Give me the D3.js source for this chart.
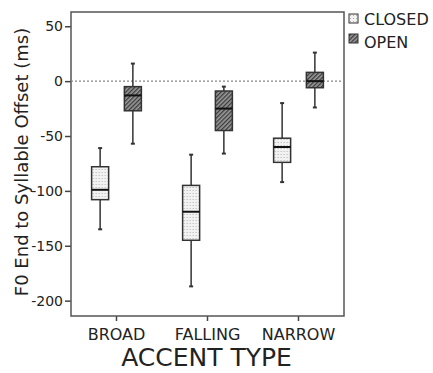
<!DOCTYPE html>
<html>
<head>
<meta charset="utf-8">
<script src="https://cdn.jsdelivr.net/npm/d3@7"></script>
<style>
  body { margin: 0; background: #fff; }
  svg { display: block; font-family: "DejaVu Sans", Verdana, sans-serif; }
</style>
</head>
<body>
<svg width="433" height="373"></svg>
<script>
const categories = ['BROAD', 'FALLING', 'NARROW']
const groups = ['CLOSED', 'OPEN']
const yTicks = [50, 0, -50, -100, -150, -200]

// [whisker low, q1, median, q3, whisker high]
const closedStats = [
    [-135, -108, -99, -78, -61],
    [-187, -145, -119, -95, -67],
    [-92, -74, -60, -52, -20]
]
const openStats = [
    [-57, -27, -13, -5, 16],
    [-66, -45, -25, -9, -5],
    [-24, -6, 0, 8, 26]
]

const svg = d3.select('svg')
const margin = {top: 12, right: 89, bottom: 57, left: 71}
const width = 433 - margin.left - margin.right
const height = 373 - margin.top - margin.bottom

// patterns
const defs = svg.append('defs')
const dots = defs.append('pattern').attr('id', 'pat-closed')
    .attr('patternUnits', 'userSpaceOnUse').attr('width', 3).attr('height', 3)
dots.append('rect').attr('width', 3).attr('height', 3).attr('fill', '#f2f2f2')
dots.append('rect').attr('x', 1).attr('y', 1).attr('width', 1).attr('height', 1).attr('fill', '#b0b0b0')

const hatch = defs.append('pattern').attr('id', 'pat-open')
    .attr('patternUnits', 'userSpaceOnUse').attr('width', 3).attr('height', 3)
    .attr('patternTransform', 'rotate(45)')
hatch.append('rect').attr('width', 3).attr('height', 3).attr('fill', '#9a9a9a')
hatch.append('rect').attr('width', 1.3).attr('height', 3).attr('fill', '#3a3a3a')

const g = svg.append('g').attr('transform', `translate(${margin.left},${margin.top})`)

const x = d3.scaleBand().domain(categories).range([0, width])
const xs = d3.scaleBand().domain(groups).range([0, x.bandwidth()]).paddingInner(0.48).paddingOuter(0.63)
const y = d3.scaleLinear().domain([-214, 63]).range([height, 0])

// axes
const yAxis = g.append('g')
    .call(d3.axisLeft(y).tickValues(yTicks).tickSize(6).tickPadding(2).tickFormat(d => String(d)))
yAxis.select('.domain').remove()
yAxis.selectAll('line').attr('stroke', '#444').attr('stroke-width', 1.5)
yAxis.selectAll('text').attr('font-size', 14).attr('fill', '#222')
    .attr('font-family', '"DejaVu Sans", sans-serif')

const xAxis = g.append('g').attr('transform', `translate(0,${height})`)
    .call(d3.axisBottom(x).tickSize(5).tickPadding(8))
xAxis.select('.domain').remove()
xAxis.selectAll('line').attr('stroke', '#444').attr('stroke-width', 1.5)
xAxis.selectAll('text').attr('font-size', 16).attr('fill', '#222')
    .attr('font-family', '"DejaVu Sans", sans-serif')

// frame
g.append('rect').attr('width', width).attr('height', height)
    .attr('fill', 'none').attr('stroke', '#555').attr('stroke-width', 1.5)

// zero reference line
g.append('line')
    .attr('x1', 0).attr('x2', width)
    .attr('y1', y(0)).attr('y2', y(0))
    .attr('stroke', '#888').attr('stroke-width', 1.2).attr('stroke-dasharray', '2,2')

// boxes
const boxes = []
categories.forEach((c, i) => {
    boxes.push({cat: c, grp: 'CLOSED', s: closedStats[i]})
    boxes.push({cat: c, grp: 'OPEN', s: openStats[i]})
})

const bw = xs.bandwidth()
const b = g.selectAll('g.box').data(boxes).enter().append('g').attr('class', 'box')
    .attr('transform', d => `translate(${x(d.cat) + xs(d.grp)},0)`)

b.append('line')
    .attr('x1', bw / 2).attr('x2', bw / 2)
    .attr('y1', d => y(d.s[0])).attr('y2', d => y(d.s[4]))
    .attr('stroke', '#333').attr('stroke-width', 1.5)
b.selectAll('line.cap').data(d => [d.s[0], d.s[4]]).enter().append('line').attr('class', 'cap')
    .attr('x1', bw / 2 - 2).attr('x2', bw / 2 + 2)
    .attr('y1', d => y(d)).attr('y2', d => y(d))
    .attr('stroke', '#333').attr('stroke-width', 2)
b.append('rect')
    .attr('y', d => y(d.s[3]))
    .attr('width', bw)
    .attr('height', d => y(d.s[1]) - y(d.s[3]))
    .attr('fill', d => d.grp === 'CLOSED' ? 'url(#pat-closed)' : 'url(#pat-open)')
    .attr('stroke', '#333').attr('stroke-width', 1.5)
b.append('line')
    .attr('x1', 0).attr('x2', bw)
    .attr('y1', d => y(d.s[2])).attr('y2', d => y(d.s[2]))
    .attr('stroke', '#111').attr('stroke-width', 2)

// labels
svg.append('text')
    .attr('transform', `translate(28,${margin.top + height / 2 - 2}) rotate(-90)`)
    .attr('text-anchor', 'middle')
    .attr('font-size', 18).attr('fill', '#222')
    .text('F0 End to Syllable Offset (ms)')

svg.append('text')
    .attr('x', margin.left + width / 2 - 1).attr('y', 366)
    .attr('text-anchor', 'middle')
    .attr('font-size', 25).attr('fill', '#222')
    .text('ACCENT TYPE')

// legend
const legend = svg.append('g').attr('transform', 'translate(349,14)')
const li = legend.selectAll('g').data(groups).enter().append('g')
li.append('rect').attr('y', (d, i) => i * 20).attr('width', 9).attr('height', 9)
    .attr('fill', d => d === 'CLOSED' ? 'url(#pat-closed)' : 'url(#pat-open)')
    .attr('stroke', '#333').attr('stroke-width', 1)
li.append('text').attr('x', 15).attr('y', (d, i) => 11 + i * 23)
    .attr('font-size', 16).attr('fill', '#222')
    .text(d => d)
</script>
</body>
</html>
